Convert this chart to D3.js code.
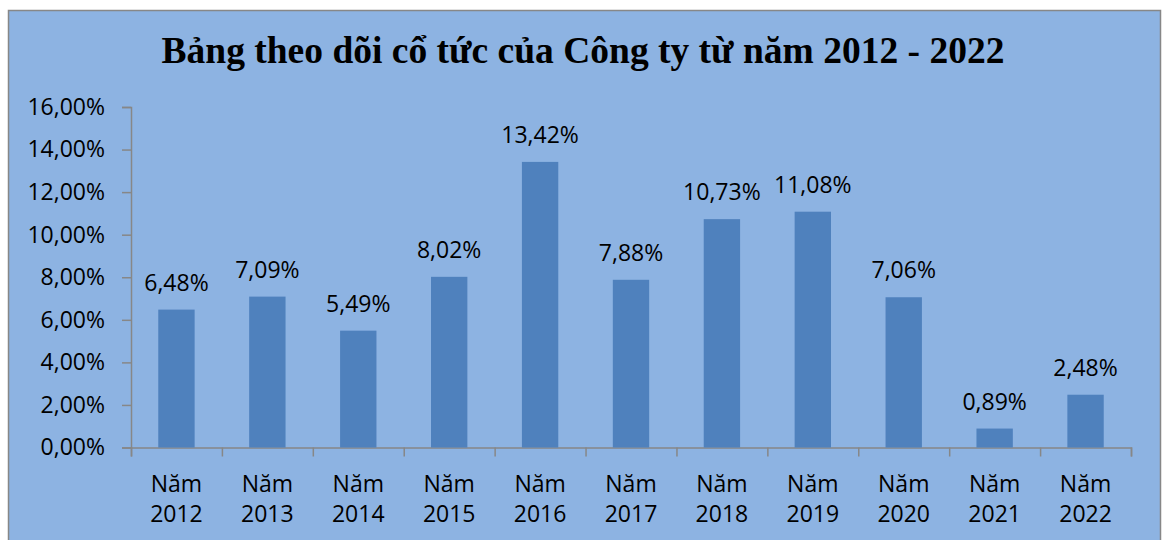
<html>
  <head>
    <title>Cổ tức</title>
    <meta charset="utf-8" />
    <script src="https://cdnjs.cloudflare.com/ajax/libs/d3/7.6.1/d3.min.js"></script>
    <style>
      body { margin: 0; background: #fff; }
      svg { display: block; }
    </style>
  </head>
  <body>
    <svg width="1166" height="540"></svg>
  </body>

  <script>
    let years = ["2012", "2013", "2014", "2015", "2016", "2017", "2018", "2019", "2020", "2021", "2022"];
    let dividends = [6.48, 7.09, 5.49, 8.02, 13.42, 7.88, 10.73, 11.08, 7.06, 0.89, 2.48];
    let yTicks = [0, 2, 4, 6, 8, 10, 12, 14, 16];

    let fmt = (v) => v.toFixed(2).replace(".", ",") + "%";
    let svg = d3.select("svg");

    svg.append("rect")
      .attr("x", 8.5).attr("y", 10.5)
      .attr("width", 1152).attr("height", 540)
      .style("fill", "#8db3e2")
      .style("stroke", "#878787")
      .style("stroke-width", 1.5);

    svg.append("text")
      .attr("x", 583).attr("y", 63)
      .attr("text-anchor", "middle")
      .style("font-family", "'Liberation Serif', serif")
      .style("font-weight", "bold")
      .style("font-size", "37.5px")
      .text("Bảng theo dõi cổ tức của Công ty từ năm 2012 - 2022");

    let xScale = d3.scaleBand().domain(years).range([131, 1131]).paddingInner(0.6).paddingOuter(0.3);
    let yScale = d3.scaleLinear().domain([0, 16]).range([447.5, 107]);

    let yAxis = d3.axisLeft(yScale).tickValues(yTicks).tickFormat(fmt).tickSize(9).tickPadding(17);
    let gy = svg.append("g").attr("transform", "translate(131,0)").call(yAxis);

    let xAxis = d3.scaleLinear().domain([0, years.length]).range([131, 1131]);
    let gx = svg.append("g").attr("transform", "translate(0,447.5)")
      .call(d3.axisBottom(xAxis).ticks(years.length).tickSize(9).tickFormat(""));

    [gy, gx].forEach((g) => {
      g.select(".domain").style("stroke", "#878787").style("stroke-width", 1.5);
      g.selectAll(".tick line").style("stroke", "#878787").style("stroke-width", 1.5);
    });
    gy.selectAll(".tick text")
      .style("font-family", "'Open Sans', sans-serif")
      .style("font-size", "23px")
      .style("fill", "#000");

    svg.selectAll("rect.bar")
      .data(dividends)
      .enter()
      .append("rect")
      .attr("class", "bar")
      .attr("x", (d, i) => xScale(years[i]))
      .attr("width", xScale.bandwidth())
      .attr("y", (d) => yScale(d))
      .attr("height", (d) => yScale(0) - yScale(d))
      .style("fill", "#4f81bd");

    svg.selectAll("text.val")
      .data(dividends)
      .enter()
      .append("text")
      .attr("class", "val")
      .attr("x", (d, i) => xScale(years[i]) + xScale.bandwidth() / 2)
      .attr("y", (d) => yScale(d) - 19)
      .attr("text-anchor", "middle")
      .style("font-family", "'Open Sans', sans-serif")
      .style("font-size", "23px")
      .text((d) => fmt(d));

    let lab = svg.selectAll("text.cat")
      .data(years)
      .enter()
      .append("text")
      .attr("class", "cat")
      .attr("text-anchor", "middle")
      .style("font-family", "'Open Sans', sans-serif")
      .style("font-size", "23px");
    lab.append("tspan")
      .attr("x", (d) => xScale(d) + xScale.bandwidth() / 2)
      .attr("y", 492)
      .text("Năm");
    lab.append("tspan")
      .attr("x", (d) => xScale(d) + xScale.bandwidth() / 2)
      .attr("y", 522)
      .text((d) => d);
  </script>
</html>
